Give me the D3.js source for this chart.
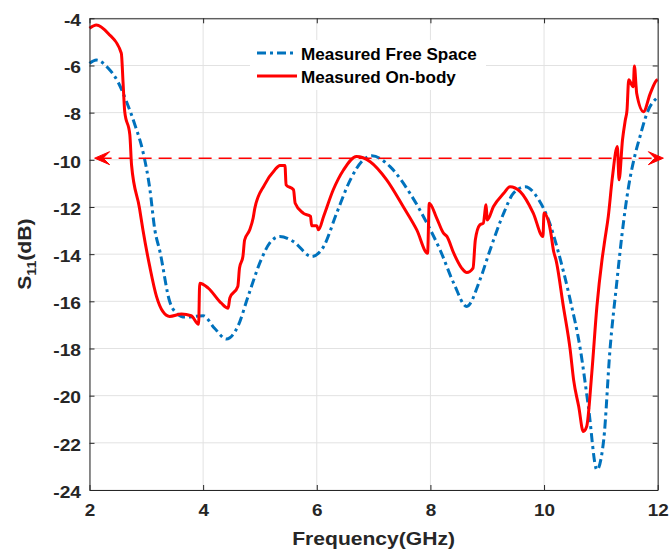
<!DOCTYPE html>
<html>
<head>
<meta charset="utf-8">
<script src="https://cdn.jsdelivr.net/npm/d3@7"></script>
<style>
  html, body { margin: 0; padding: 0; background: #ffffff; }
  svg { display: block; }
  text { font-family: "Liberation Sans", Arial, sans-serif; font-weight: bold; }
</style>
</head>
<body>
<svg id="chart" width="670" height="550"></svg>
<script>
// ---------------- data ----------------
const seriesNames = ["Measured Free Space", "Measured On-body"];

const freqFreeSpace = [2.00, 2.12, 2.33, 2.50, 2.65, 2.80, 2.94, 3.06, 3.15, 3.24, 3.41, 3.53, 3.68, 4.00, 4.20, 4.41, 4.61, 4.79, 5.02, 5.17, 5.35, 5.59, 5.91, 6.12, 6.35, 6.59, 6.82, 6.97, 7.29, 7.64, 7.94, 8.17, 8.41, 8.64, 8.87, 9.05, 9.29, 9.46, 9.67, 9.87, 10.10, 10.25, 10.46, 10.64, 10.78, 10.93, 11.05, 11.16, 11.28, 11.37, 11.49, 11.60, 11.69, 11.81, 12.00];
const s11FreeSpace  = [-5.91, -5.77, -6.12, -6.69, -7.53, -8.52, -9.65, -11.20, -12.97, -13.89, -16.00, -16.50, -16.67, -16.61, -17.14, -17.60, -17.07, -15.80, -14.24, -13.53, -13.25, -13.47, -14.10, -13.68, -12.26, -10.85, -10.00, -9.83, -10.29, -11.42, -12.69, -13.82, -15.23, -16.22, -15.10, -13.82, -12.26, -11.42, -11.14, -11.56, -12.69, -13.90, -15.94, -18.06, -20.46, -23.14, -21.87, -18.06, -15.20, -13.20, -11.10, -9.80, -9.00, -8.03, -7.35];

const freqOnBody = [2.00, 2.12, 2.33, 2.56, 2.59, 2.62, 2.71, 2.74, 2.88, 2.94, 3.06, 3.18, 3.29, 3.41, 3.62, 3.79, 3.92, 3.94, 4.09, 4.32, 4.44, 4.47, 4.61, 4.64, 4.70, 4.73, 4.82, 4.88, 4.91, 5.08, 5.26, 5.35, 5.44, 5.46, 5.59, 5.62, 5.76, 5.89, 5.91, 6.00, 6.03, 6.12, 6.29, 6.47, 6.70, 6.94, 7.23, 7.52, 7.76, 7.95, 7.98, 8.11, 8.23, 8.29, 8.41, 8.55, 8.64, 8.75, 8.79, 8.87, 8.93, 8.98, 9.00, 9.11, 9.29, 9.40, 9.58, 9.81, 9.98, 10.00, 10.11, 10.17, 10.21, 10.34, 10.46, 10.52, 10.61, 10.69, 10.75, 10.84, 10.93, 11.02, 11.07, 11.13, 11.20, 11.29, 11.32, 11.38, 11.43, 11.46, 11.49, 11.57, 11.59, 11.62, 11.63, 11.75, 11.87, 11.99, 12.00];
const s11OnBody  = [-4.42, -4.28, -4.64, -5.48, -6.69, -7.96, -8.94, -10.22, -12.05, -12.97, -14.52, -15.80, -16.43, -16.64, -16.54, -16.61, -16.97, -15.23, -15.44, -16.08, -16.29, -15.86, -15.37, -14.59, -14.10, -13.40, -12.97, -12.47, -12.05, -11.06, -10.43, -10.24, -10.24, -11.06, -11.27, -11.84, -12.26, -12.40, -12.80, -12.80, -12.97, -12.40, -11.27, -10.43, -9.86, -10.08, -10.85, -11.98, -12.97, -13.96, -11.84, -12.47, -13.11, -13.25, -13.96, -14.59, -14.78, -14.59, -13.40, -12.76, -12.69, -11.91, -12.55, -11.98, -11.42, -11.14, -11.35, -12.26, -13.25, -12.26, -12.97, -13.90, -14.24, -16.22, -18.06, -19.33, -20.46, -21.52, -21.31, -19.04, -16.22, -14.24, -13.39, -12.41, -10.80, -9.44, -10.85, -9.16, -8.31, -7.89, -6.61, -6.90, -6.02, -6.90, -7.18, -7.96, -7.18, -6.61, -6.60];

// -10 dB reference (double arrow)
const refLevel = [-9.93];
const refSpan = [2.09, 12.10];

const xTicks = [2, 4, 6, 8, 10, 12];
const yTicks = [-4, -6, -8, -10, -12, -14, -16, -18, -20, -22, -24];
const xLabel = "Frequency(GHz)";

// ---------------- layout ----------------
const svg = d3.select("#chart");
const L = 89.5, R = 657.7, T = 18.3, B = 490;
const x = d3.scaleLinear().domain([2, 12]).range([L, R]);
const y = d3.scaleLinear().domain([-24, -4]).range([B, T]);

const axisColor = "#262626";
const gridColor = "#e2e2e2";

// grid
const grid = svg.append("g");
grid.selectAll(".gx").data(xTicks).enter().append("line")
  .attr("x1", d => x(d)).attr("x2", d => x(d)).attr("y1", T).attr("y2", B)
  .attr("stroke", gridColor).attr("stroke-width", 1);
grid.selectAll(".gy").data(yTicks).enter().append("line")
  .attr("x1", L).attr("x2", R).attr("y1", d => y(d)).attr("y2", d => y(d))
  .attr("stroke", gridColor).attr("stroke-width", 1);

// curves
const fsData = freqFreeSpace.map((f, i) => [f, s11FreeSpace[i]]);
const obData = freqOnBody.map((f, i) => [f, s11OnBody[i]]);
const line = d3.line().x(d => x(d[0])).y(d => y(d[1])).curve(d3.curveMonotoneX);

svg.append("path").datum(fsData).attr("d", line)
  .attr("fill", "none").attr("stroke", "#0072BD").attr("stroke-width", 3)
  .attr("stroke-dasharray", "9,4,3,4");
svg.append("path").datum(obData).attr("d", line)
  .attr("fill", "none").attr("stroke", "#FF0000").attr("stroke-width", 3)
  .attr("stroke-linejoin", "round");

// axes
function styleAxis(g) {
  g.select(".domain").attr("stroke", axisColor).attr("stroke-width", 1);
  g.selectAll(".tick line").attr("stroke", axisColor).attr("stroke-width", 1);
  g.selectAll("text").attr("fill", axisColor).attr("font-size", 16)
   .attr("font-family", "'Liberation Sans', Arial, sans-serif").attr("font-weight", "bold");
}
const gx = svg.append("g").attr("transform", `translate(0,${B})`)
  .call(d3.axisBottom(x).tickValues(xTicks).tickSizeInner(-5).tickSizeOuter(0).tickPadding(15).tickFormat(d3.format("d")));
styleAxis(gx);
gx.selectAll("text").attr("transform", "scale(1.18,1)");

const gy = svg.append("g").attr("transform", `translate(${L},0)`)
  .call(d3.axisLeft(y).tickValues(yTicks).tickSizeInner(-5).tickSizeOuter(0).tickPadding(8).tickFormat(d => d3.format("d")(d).replace("−", "-")));
styleAxis(gy);
gy.selectAll("text").attr("x", 0).attr("dy", "0.45em").attr("transform", "translate(-8.5,0) scale(1.2,1)");

const gt = svg.append("g").attr("transform", `translate(0,${T})`)
  .call(d3.axisTop(x).tickValues(xTicks).tickSizeInner(-5).tickSizeOuter(0).tickFormat(""));
styleAxis(gt);
const gr = svg.append("g").attr("transform", `translate(${R},0)`)
  .call(d3.axisRight(y).tickValues(yTicks).tickSizeInner(-5).tickSizeOuter(0).tickFormat(""));
styleAxis(gr);

// axis labels
svg.append("text").attr("transform", `translate(${(L + R) / 2},545) scale(1.14,1)`)
  .attr("text-anchor", "middle").attr("font-size", 18.5).attr("fill", axisColor).text(xLabel);

const yl = svg.append("text").attr("transform", `translate(31,${(T + B) / 2}) rotate(-90) scale(1.14,1)`)
  .attr("text-anchor", "middle").attr("font-size", 18.5).attr("fill", axisColor);
yl.append("tspan").text("S");
yl.append("tspan").attr("font-size", 12.5).attr("dy", 5).text("11");
yl.append("tspan").attr("dy", -5).text("(dB)");

// legend
const lg = svg.append("g");
lg.append("rect").attr("x", 250).attr("y", 40).attr("width", 236).attr("height", 50).attr("fill", "#fff");
const legendStyles = [
  { color: "#0072BD", dash: "9,4,3,4" },
  { color: "#FF0000", dash: null }
];
seriesNames.forEach((name, i) => {
  const ly = 53 + i * 23;
  const l = lg.append("line").attr("x1", 257).attr("x2", 297).attr("y1", ly).attr("y2", ly)
    .attr("stroke", legendStyles[i].color).attr("stroke-width", 3);
  if (legendStyles[i].dash) l.attr("stroke-dasharray", legendStyles[i].dash);
  lg.append("text").attr("transform", `translate(301,${ly + 6.5}) scale(1.07,1)`)
    .attr("font-size", 16).attr("fill", "#000").text(name);
});

// -10 dB double arrow
const ay = y(refLevel[0]);
const ax1 = x(refSpan[0]), ax2 = x(refSpan[1]);
svg.append("line").attr("x1", ax1 + 4).attr("x2", ax2 - 4).attr("y1", ay).attr("y2", ay)
  .attr("stroke", "#FF0000").attr("stroke-width", 1.5).attr("stroke-dasharray", "13,7");
svg.append("path")
  .attr("d", `M${ax1},${ay} L${ax1 + 15},${ay - 6.5} L${ax1 + 8.5},${ay} L${ax1 + 15},${ay + 6.5} Z`)
  .attr("fill", "#FF0000").attr("stroke", "#FF0000").attr("stroke-width", 1).attr("stroke-linejoin", "round");
svg.append("path")
  .attr("d", `M${ax2},${ay} L${ax2 - 15},${ay - 6.5} L${ax2 - 8.5},${ay} L${ax2 - 15},${ay + 6.5} Z`)
  .attr("fill", "#FF0000").attr("stroke", "#FF0000").attr("stroke-width", 1).attr("stroke-linejoin", "round");
</script>
</body>
</html>
